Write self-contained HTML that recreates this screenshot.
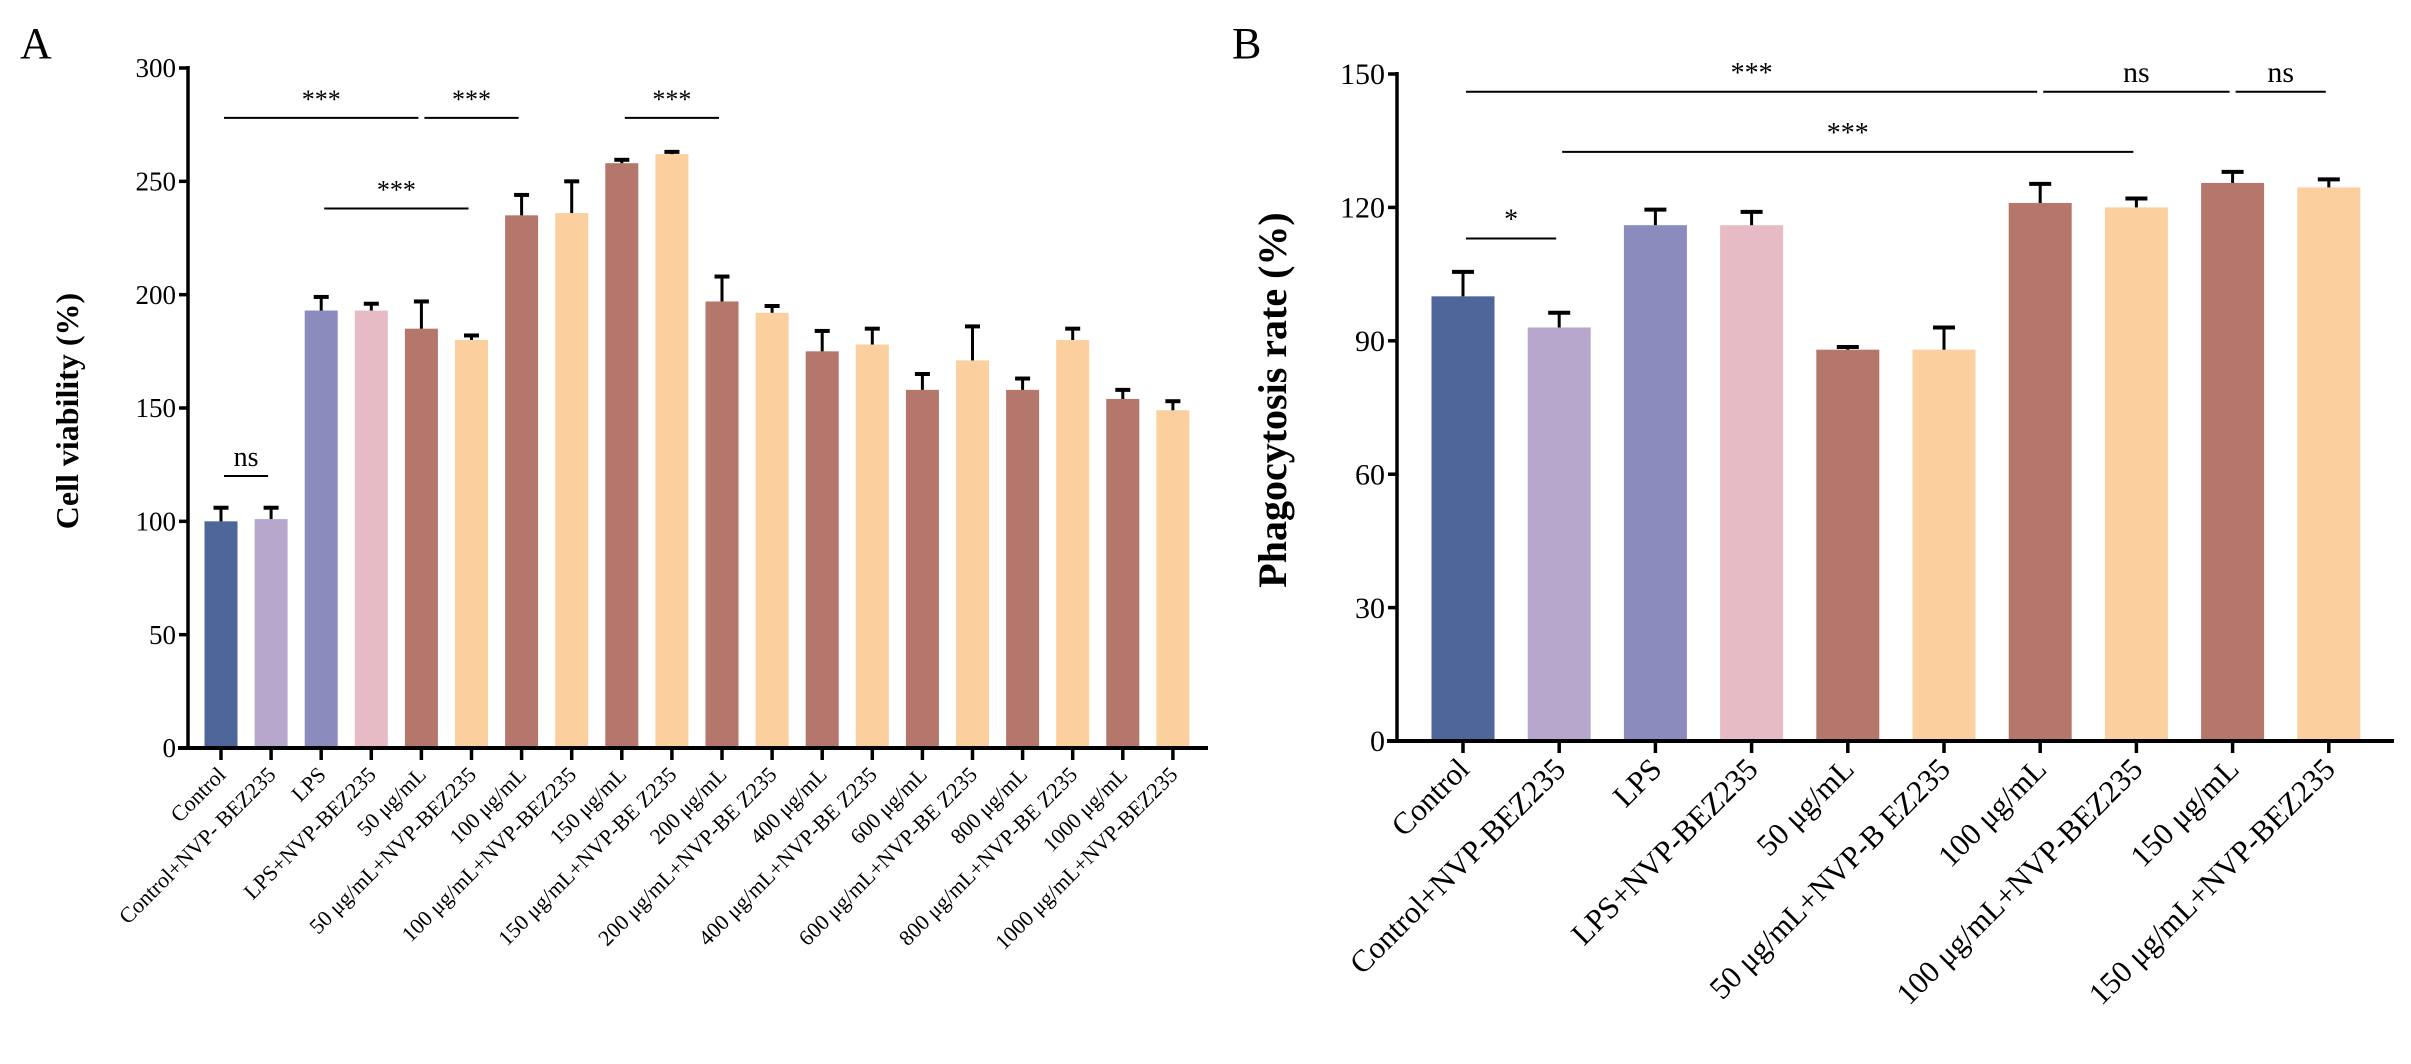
<!DOCTYPE html>
<html><head><meta charset="utf-8">
<style>
html,body{margin:0;padding:0;background:#fff;}
svg{display:block;font-family:"Liberation Serif","Times New Roman",serif;}
</style></head>
<body>
<svg id="fig" width="2411" height="1064" viewBox="0 0 2411 1064" xmlns="http://www.w3.org/2000/svg">
<text x="20" y="58" font-size="44">A</text>
<text x="1232" y="58" font-size="44">B</text>
<g id="chartA"></g>
<g id="chartB"></g>
</svg>
<script>
const catsA = ["Control","Control+NVP- BEZ235","LPS","LPS+NVP-BEZ235","50 μg/mL","50 μg/mL+NVP-BEZ235","100 μg/mL","100 μg/mL+NVP-BEZ235","150 μg/mL","150 μg/mL+NVP-BE Z235","200 μg/mL","200 μg/mL+NVP-BE Z235","400 μg/mL","400 μg/mL+NVP-BE Z235","600 μg/mL","600 μg/mL+NVP-BE Z235","800 μg/mL","800 μg/mL+NVP-BE Z235","1000 μg/mL","1000 μg/mL+NVP-BEZ235"];
const valsA = [100,101,193,193,185,180,235,236,258,262,197,192,175,178,158,171,158,180,154,149];
const errA = [6,5,6,3,12,2,9,14,1.5,1,11,3,9,7,7,15,5,5,4,4];
const ticksA = [0,50,100,150,200,250,300];
const catsB = ["Control","Control+NVP-BEZ235","LPS","LPS+NVP-BEZ235","50 μg/mL","50 μg/mL+NVP-B EZ235","100 μg/mL","100 μg/mL+NVP-BEZ235","150 μg/mL","150 μg/mL+NVP-BEZ235"];
const valsB = [100,93,116,116,88,88,121,120,125.5,124.5];
const errB = [5.5,3.3,3.5,3,0.6,5,4.3,2,2.5,1.8];
const ticksB = [0,30,60,90,120,150];
const colorKeys = ["ctrl","ctrlnvp","lps","lpsnvp","dose","dosenvp","dose","dosenvp","dose","dosenvp","dose","dosenvp","dose","dosenvp","dose","dosenvp","dose","dosenvp","dose","dosenvp"];
const palette = {ctrl:"#4e6699",ctrlnvp:"#b7a7cd",lps:"#8b8cbd",lpsnvp:"#e7bbc6",dose:"#b5766b",dosenvp:"#fbcf9e"};
// significance: [fromIndex, toIndex, yValue, label]
const sigA = [[0,4,278,"***"],[4,6,278,"***"],[8,10,278,"***"],[2,5,238,"***"],[0,1,120,"ns"]];
const sigB = [[0,6,146,"***"],[6,8,146,"ns"],[8,9,146,"ns"],[1,7,132.5,"***"],[0,1,113,"*"]];

const NS="http://www.w3.org/2000/svg";
function mk(tag, attrs, parent){const e=document.createElementNS(NS,tag);for(const k in attrs)e.setAttribute(k,attrs[k]);parent.appendChild(e);return e;}

function draw(g, cfg){
  const {cats,vals,errs,ticks,x0,xStart,step,barW,yTop,yBase,yMax,xEnd,tickFont,labFont,labOffset,ylabel,ylx,yly,ylFont,sigs,capW,sigFont} = cfg;
  const y = v => yBase - v/yMax*(yBase-yTop);
  const x = i => xStart + i*step;
  cats.forEach((c,i)=>{
    const r = mk('rect',{x:x(i)-barW/2,y:y(vals[i]),width:barW,height:yBase-y(vals[i]),fill:palette[colorKeys[i]]},g);
    
    
    const top=y(vals[i]), et=y(vals[i]+errs[i]);
    const e1 = mk('line',{x1:x(i),x2:x(i),y1:top,y2:et,stroke:'#000','stroke-width':3},g);
    
    
    const e2 = mk('line',{x1:x(i)-capW/2,x2:x(i)+capW/2,y1:et,y2:et,stroke:'#000','stroke-width':4},g);
    
    
    const tk = mk('line',{x1:x(i),x2:x(i),y1:yBase,y2:yBase+12,stroke:'#000','stroke-width':3.5},g);
    
    
    const lx = x(i)+labOffset, ly = yBase+labOffset+22;
    const t = mk('text',{x:lx,y:ly,'text-anchor':'end','font-size':labFont,transform:`rotate(-45 ${lx} ${ly})`},g);
    t.textContent=c;
    
    
  });
  const ya = mk('line',{x1:x0,x2:x0,y1:yTop-2,y2:yBase+2,stroke:'#000','stroke-width':3.5},g);
  
  
  const xa = mk('line',{x1:x0-10,x2:xEnd,y1:yBase,y2:yBase,stroke:'#000','stroke-width':4},g);
  
  
  ticks.forEach(tv=>{
    const l = mk('line',{x1:x0-9,x2:x0,y1:y(tv),y2:y(tv),stroke:'#000','stroke-width':3.5},g);
    
    
    const t = mk('text',{x:x0-12,y:y(tv)+tickFont*0.34,'text-anchor':'end','font-size':tickFont},g);
    t.textContent=tv;
    
    
  });
  const yl = mk('text',{x:ylx,y:yly,'text-anchor':'middle','font-size':ylFont,'font-weight':'bold',transform:`rotate(-90 ${ylx} ${yly})`},g);
  yl.textContent=ylabel;
  
  
  sigs.forEach(s=>{
    const yy=y(s[2]);
    const l = mk('line',{x1:x(s[0])+3,x2:x(s[1])-3,y1:yy,y2:yy,stroke:'#000','stroke-width':2},g);
    
    
    const t = mk('text',{x:(x(s[0])+x(s[1]))/2,y:yy-10,'text-anchor':'middle','font-size':s[3]==='ns'?sigFont+2:sigFont},g);
    t.textContent=s[3];
    
    
  });
}
draw(document.getElementById('chartA'),{cats:catsA,vals:valsA,errs:errA,ticks:ticksA,x0:188,xStart:221,step:50.1,barW:33,yTop:68,yBase:748,yMax:300,xEnd:1208,tickFont:27,labFont:22,labOffset:6,ylabel:"Cell viability (%)",ylx:78,yly:411,ylFont:32,sigs:sigA,capW:15,sigFont:26});
draw(document.getElementById('chartB'),{cats:catsB,vals:valsB,errs:errB,ticks:ticksB,x0:1397,xStart:1463,step:96.2,barW:63,yTop:74,yBase:741,yMax:150,xEnd:2394,tickFont:30,labFont:31,labOffset:8,ylabel:"Phagocytosis rate (%)",ylx:1286,yly:400,ylFont:40,sigs:sigB,capW:22,sigFont:28});
</script>
</body></html>
